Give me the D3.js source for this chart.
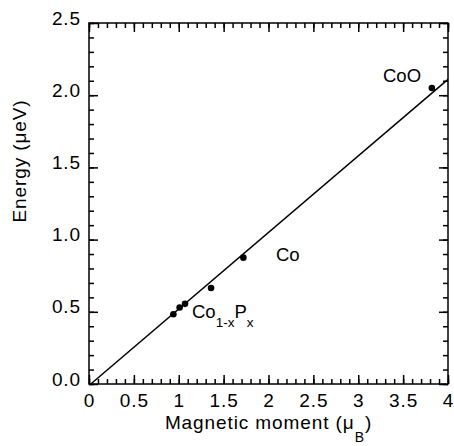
<!DOCTYPE html>
<head>
<meta charset="utf-8" />
</head>
<style>
body { margin: 0; background: #fff; }
svg { display: block; }
text {
  font-family: "Liberation Sans", Arial, Helvetica, sans-serif;
  font-size: 19px;
  letter-spacing: 0.9px;
  fill: #000;
}
.note { letter-spacing: 0px; font-size: 18.5px; }
.axis path, .axis line { stroke: #000; stroke-width: 1.5px; }
</style>
<body>
<script src="https://cdn.jsdelivr.net/npm/d3@7"></script>
<script>
// data
var moment = [0.94, 1.01, 1.07, 1.36, 1.72, 3.82];
var energy = [0.483, 0.53, 0.555, 0.665, 0.875, 2.05];
var fitX = [0.02, 4.0];
var fitY = [0.0, 2.11];
var xMajor = [0, 0.5, 1, 1.5, 2, 2.5, 3, 3.5, 4];
var xLabels = ["0", "0.5", "1", "1.5", "2", "2.5", "3", "3.5", "4"];
var yMajor = [0, 0.5, 1, 1.5, 2, 2.5];
var yLabels = ["0.0", "0.5", "1.0", "1.5", "2.0", "2.5"];

var width = 454, height = 446;
var margin = {top: 23, right: 6, bottom: 62, left: 89};

var svg = d3.select("body").append("svg")
  .attr("width", width)
  .attr("height", height);

var x = d3.scaleLinear().domain([0, 4]).range([margin.left, width - margin.right]);
var y = d3.scaleLinear().domain([0, 2.5]).range([height - margin.bottom, margin.top]);

var xMinor = d3.range(0, 41).map(function(i) { return i / 10; });
var yMinor = d3.range(0, 26).map(function(i) { return i / 10; });

function minorAxis(axis, vals) {
  return axis.tickValues(vals).tickSize(-5).tickFormat("");
}

// minor ticks all four sides
svg.append("g").attr("class", "axis")
  .attr("transform", "translate(0," + y(0) + ")")
  .call(minorAxis(d3.axisBottom(x), xMinor));
svg.append("g").attr("class", "axis")
  .attr("transform", "translate(0," + y(2.5) + ")")
  .call(minorAxis(d3.axisTop(x), xMinor));
svg.append("g").attr("class", "axis")
  .attr("transform", "translate(" + x(0) + ",0)")
  .call(minorAxis(d3.axisLeft(y), yMinor));
svg.append("g").attr("class", "axis")
  .attr("transform", "translate(" + x(4) + ",0)")
  .call(minorAxis(d3.axisRight(y), yMinor));

// major ticks
var xb = svg.append("g").attr("class", "axis")
  .attr("transform", "translate(0," + y(0) + ")")
  .call(d3.axisBottom(x).tickValues(xMajor).tickSize(-9).tickPadding(10)
    .tickFormat(function(d, i) { return xLabels[i]; }));
xb.selectAll("text").attr("font-size", null).attr("font-family", null);

svg.append("g").attr("class", "axis")
  .attr("transform", "translate(0," + y(2.5) + ")")
  .call(d3.axisTop(x).tickValues(xMajor).tickSize(-9).tickFormat(""));

var yl = svg.append("g").attr("class", "axis")
  .attr("transform", "translate(" + x(0) + ",0)")
  .call(d3.axisLeft(y).tickValues(yMajor).tickSize(-9).tickPadding(8)
    .tickFormat(function(d, i) { return yLabels[i]; }));
yl.selectAll("text").attr("font-size", null).attr("font-family", null)
  .attr("dy", "0.32em").attr("y", -5);

svg.append("g").attr("class", "axis")
  .attr("transform", "translate(" + x(4) + ",0)")
  .call(d3.axisRight(y).tickValues(yMajor).tickSize(-9).tickFormat(""));

svg.selectAll(".axis .domain").remove();

// frame
svg.append("rect")
  .attr("x", x(0)).attr("y", y(2.5))
  .attr("width", x(4) - x(0)).attr("height", y(0) - y(2.5))
  .attr("fill", "none").attr("stroke", "#000").attr("stroke-width", 1.5);

// fit line
svg.append("line")
  .attr("x1", x(fitX[0])).attr("y1", y(fitY[0]))
  .attr("x2", x(fitX[1])).attr("y2", y(fitY[1]))
  .attr("stroke", "#000").attr("stroke-width", 1.5);

// points
svg.append("g").selectAll("circle")
  .data(moment)
  .enter().append("circle")
  .attr("cx", function(d) { return x(d); })
  .attr("cy", function(d, i) { return y(energy[i]); })
  .attr("r", 3.3)
  .attr("fill", "#000");

// labels
svg.append("text").attr("class", "note").attr("x", 276).attr("y", 261).text("Co");
svg.append("text").attr("class", "note").attr("x", 383).attr("y", 82).text("CoO");

var cp = svg.append("text").attr("class", "note").attr("x", 192).attr("y", 318);
cp.append("tspan").text("Co");
cp.append("tspan").attr("dy", 9).style("font-size", "13.5px").text("1-x");
cp.append("tspan").attr("dy", -9).text("P");
cp.append("tspan").attr("dy", 9).style("font-size", "13.5px").text("x");

// axis titles
var xt = svg.append("text")
  .attr("x", (x(0) + x(4)) / 2)
  .attr("y", 429)
  .attr("text-anchor", "middle");
xt.append("tspan").text("Magnetic moment (\u03bc");
xt.append("tspan").attr("dy", 13).style("font-size", "14px").text("B");
xt.append("tspan").attr("dy", -13).text(")");

svg.append("text")
  .attr("transform", "translate(26,161) rotate(-90)")
  .attr("text-anchor", "middle")
  .text("Energy (\u03bceV)");
</script>
</body>
